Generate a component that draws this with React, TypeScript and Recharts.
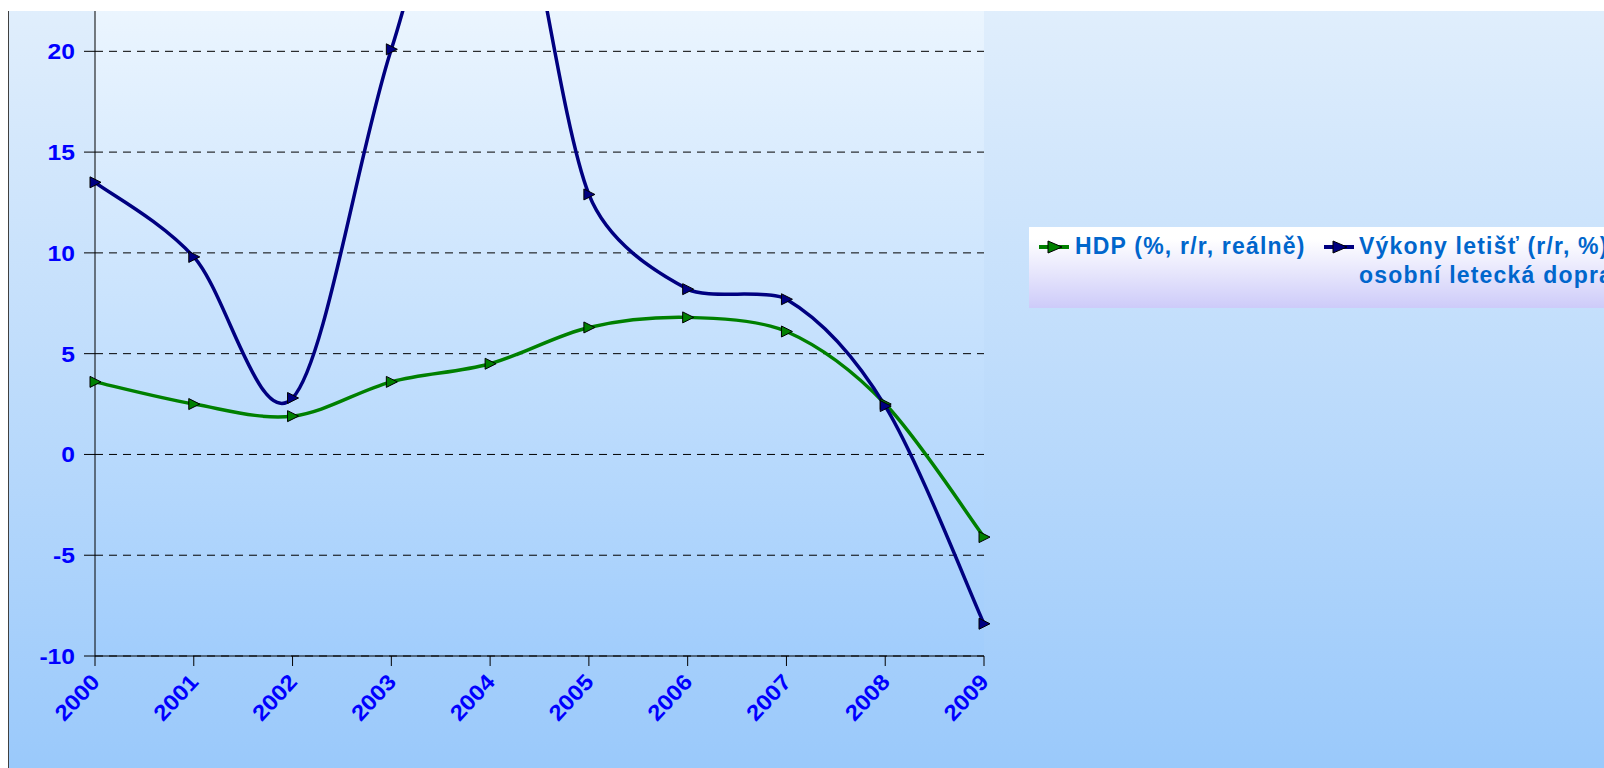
import React from "react";
import {
  LineChart,
  Line,
  XAxis,
  YAxis,
  CartesianGrid,
  Legend,
} from "recharts";

const years = ["2000", "2001", "2002", "2003", "2004", "2005", "2006", "2007", "2008", "2009"];
const hdp = [3.6, 2.5, 1.9, 3.6, 4.5, 6.3, 6.8, 6.1, 2.5, -4.1];
const letiste = [13.5, 9.8, 2.8, 20.1, 33, 12.9, 8.2, 7.7, 2.4, -8.4];
const yTicks = [-10, -5, 0, 5, 10, 15, 20];

const HDP_NAME = "HDP (%, r/r, reálně)";
const LET_NAME_1 = "Výkony letišť (r/r, %)";
const LET_NAME_2 = "osobní letecká doprava";

const GREEN = "#008000";
const NAVY = "#000080";
const TICK_BLUE = "#0000ff";
const LEGEND_BLUE = "#0066cc";

const data = years.map((y, i) => ({ year: y, hdp: hdp[i], letiste: letiste[i] }));

// ratio between one category step and one y unit, so smoothing is done in data space
const Y_STRETCH = 4.9;

// Excel-like smoothed line: Bezier through the points, handles 1/6 of the neighbour
// span, shortened when they would pass half of the segment
function excelSmooth(context: any) {
  let pts: number[][] = [];
  const dist = (a: number[], b: number[]) =>
    Math.hypot(b[0] - a[0], (b[1] - a[1]) * Y_STRETCH);
  return {
    areaStart() {},
    areaEnd() {},
    lineStart() {
      pts = [];
    },
    point(x: number, y: number) {
      pts.push([+x, +y]);
    },
    lineEnd() {
      if (!pts.length) return;
      context.moveTo(pts[0][0], pts[0][1]);
      for (let i = 0; i < pts.length - 1; i++) {
        const p0 = pts[i - 1] || pts[i];
        const p1 = pts[i];
        const p2 = pts[i + 1];
        const p3 = pts[i + 2] || pts[i + 1];
        const d02 = dist(p0, p2);
        const d12 = dist(p1, p2);
        const d13 = dist(p1, p3);
        const f1 = d02 / 6 < d12 / 2 ? 1 / 6 : d12 / (2 * d02);
        const f2 = d13 / 6 < d12 / 2 ? 1 / 6 : d12 / (2 * d13);
        context.bezierCurveTo(
          p1[0] + (p2[0] - p0[0]) * f1,
          p1[1] + (p2[1] - p0[1]) * f1,
          p2[0] - (p3[0] - p1[0]) * f2,
          p2[1] - (p3[1] - p1[1]) * f2,
          p2[0],
          p2[1]
        );
      }
    },
  };
}

const triangleDot = (fill: string) => (props: any) => {
  const { cx, cy, index } = props;
  if (cx == null || cy == null) return <g key={index} />;
  return (
    <path
      key={index}
      d={`M${cx - 5},${cy - 5.5}L${cx + 6},${cy}L${cx - 5},${cy + 5.5}Z`}
      fill={fill}
      stroke="#000"
      strokeWidth={1}
    />
  );
};

const YTick = (props: any) => {
  const { x, y, payload } = props;
  return (
    <text
      transform={`translate(${x - 7},${y + 8}) scale(1.12,1)`}
      textAnchor="end"
      fill={TICK_BLUE}
      fontSize={22}
      fontWeight="bold"
      fontFamily="'Liberation Sans', Arial, sans-serif"
    >
      {payload.value}
    </text>
  );
};

const XTick = (props: any) => {
  const { x, y, payload } = props;
  return (
    <text
      transform={`translate(${x + 6},${y + 15}) rotate(-47) scale(1.1,1)`}
      textAnchor="end"
      fill={TICK_BLUE}
      fontSize={22}
      fontWeight="bold"
      fontFamily="'Liberation Sans', Arial, sans-serif"
    >
      {payload.value}
    </text>
  );
};

const LegendMarker = ({ color }: { color: string }) => (
  <svg width={32} height={14} style={{ position: "absolute", left: 0, top: -7 }}>
    <line x1={0} y1={7} x2={30} y2={7} stroke={color} strokeWidth={4} />
    <path d="M9,1L23,7L9,13Z" fill={color} stroke="#000" strokeWidth={1} />
  </svg>
);

const legendText: React.CSSProperties = {
  position: "absolute",
  color: LEGEND_BLUE,
  fontFamily: "'Liberation Sans', Arial, sans-serif",
  fontWeight: "bold",
  fontSize: 23,
  letterSpacing: 1.2,
  whiteSpace: "nowrap",
  lineHeight: "29px",
};

const renderLegend = () => (
  <div
    style={{
      position: "relative",
      width: 700,
      height: 81,
      background: "linear-gradient(#ffffff 15%, #cdcbf9)",
    }}
  >
    <div style={{ position: "absolute", left: 10, top: 20 }}>
      <LegendMarker color={GREEN} />
    </div>
    <div style={{ ...legendText, left: 46, top: 5 }}>{HDP_NAME}</div>
    <div style={{ position: "absolute", left: 295, top: 20 }}>
      <LegendMarker color={NAVY} />
    </div>
    <div style={{ ...legendText, left: 330, top: 5 }}>
      {LET_NAME_1}
      <br />
      {LET_NAME_2}
    </div>
  </div>
);

export default function App() {
  return (
    <div
      style={{
        position: "fixed",
        left: 8,
        top: 11,
        width: 1596,
        height: 757,
        overflow: "hidden",
        background: "linear-gradient(#e0eefc, #9ac9fb)",
        boxShadow: "inset 1px 0 0 #404040",
      }}
    >
      <LineChart
        width={1596}
        height={757}
        data={data}
        margin={{ top: 0, right: 620, left: 0, bottom: 0 }}
      >
        <defs>
          <linearGradient id="plotBg" x1="0" y1="0" x2="0" y2="1">
            <stop offset="0%" stopColor="#ebf5fe" />
            <stop offset="100%" stopColor="#a1cdfc" />
          </linearGradient>
        </defs>
        <CartesianGrid
          vertical={false}
          syncWithTicks
          fill="url(#plotBg)"
          stroke="#000"
          strokeDasharray="8 6"
        />
        <XAxis
          dataKey="year"
          height={112}
          tickSize={10}
          axisLine={{ stroke: "#000" }}
          tickLine={{ stroke: "#000" }}
          tick={<XTick />}
          interval={0}
        />
        <YAxis
          width={87}
          domain={[-10, 22]}
          ticks={yTicks}
          allowDataOverflow
          tickSize={11}
          axisLine={{ stroke: "#000" }}
          tickLine={{ stroke: "#000" }}
          tick={<YTick />}
          interval={0}
        />
        <Legend
          content={renderLegend}
          layout="horizontal"
          verticalAlign="middle"
          align="center"
          wrapperStyle={{ left: 1021, top: 216, width: 700, height: 81 }}
        />
        <Line
          dataKey="hdp"
          name={HDP_NAME}
          type={excelSmooth as any}
          stroke={GREEN}
          strokeWidth={3.5}
          dot={triangleDot(GREEN)}
          activeDot={false}
          isAnimationActive={false}
        />
        <Line
          dataKey="letiste"
          name={LET_NAME_1}
          type={excelSmooth as any}
          stroke={NAVY}
          strokeWidth={3.5}
          dot={triangleDot(NAVY)}
          activeDot={false}
          isAnimationActive={false}
        />
      </LineChart>
    </div>
  );
}
